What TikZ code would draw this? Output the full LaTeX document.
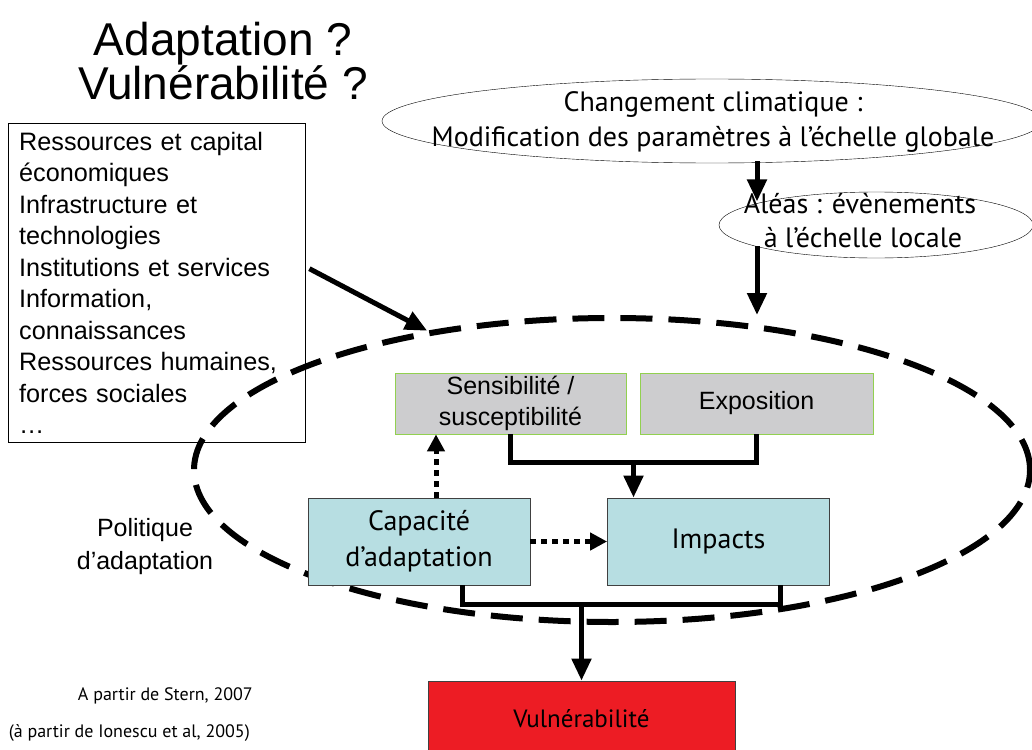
\documentclass[tikz,border=0pt]{standalone}
\usepackage{fontspec}
\setmainfont{Liberation Sans}
\newfontfamily\tahfont{PT Sans}
\usetikzlibrary{arrows.meta,shapes.geometric,calc}

\definecolor{sensgray}{RGB}{205,205,207}
\definecolor{sensgreen}{RGB}{146,208,80}
\definecolor{capcyan}{RGB}{183,222,226}
\definecolor{vulred}{RGB}{237,28,36}

\begin{document}
\begin{tikzpicture}[x=1pt,y=-1pt,
    ell/.style={ellipse,draw,thin,inner sep=0pt},
    elltext/.style={font=\tahfont\fontsize{28}{34}\selectfont,align=center,inner sep=0pt},
    greybox/.style={draw=sensgreen,fill=sensgray,thick,minimum height=61pt,font=\fontsize{25}{31}\selectfont,align=center,inner sep=0pt},
    cyanbox/.style={draw=black!75,fill=capcyan,thick,minimum width=222pt,minimum height=87pt,font=\tahfont\fontsize{28}{36}\selectfont,align=center,inner sep=0pt},
    bigarrow/.style={line width=5pt,-{Triangle[length=22pt,width=19pt]}},
    bigline/.style={line width=5pt},
    dotarrow/.style={line width=5pt,dash pattern=on 6pt off 5pt,-{Triangle[length=17pt,width=17pt]}}]
	\useasboundingbox (0,0) rectangle (1032,749);
	% titre
	\node (titre) at (223,61) [align=center,font=\fontsize{46}{42}\selectfont] {Adaptation ?\\Vuln\'erabilit\'e ?};
	% liste des ressources
	\node (res) at (8,123) [anchor=north west,draw,thin,minimum width=293pt,minimum height=319pt,text width=275pt,inner xsep=11pt,align=left,font=\fontsize{25.2}{31.5}\selectfont]
		{Ressources et capital\\\'economiques\\Infrastructure et\\technologies\\Institutions et services\\Information,\\connaissances\\Ressources humaines,\\forces sociales\\…};
	% ellipses du haut
	\node (clim) at (712,121) [ell,minimum width=660pt,minimum height=84pt] {};
	\node (climtxt) at (713,122) [elltext] {Changement climatique :\\Modification des param\`etres \`a l’\'echelle globale};
	\node (aleas) at (876,225) [ell,minimum width=314pt,minimum height=66pt] {};
	\node (aleastxt) at (860,221) [elltext] {Al\'eas : \'ev\`enements\\\hspace*{6pt}\`a l’\'echelle locale};
	% zone en tirets
	\node (zone) at (612,470) [ellipse,draw,line width=6pt,dash pattern=on 32pt off 16pt,minimum width=836pt,minimum height=304pt] {};
	% boites
	\node (sens) at (510.5,403.5) [greybox,minimum width=231pt] {Sensibilit\'e /\\susceptibilit\'e};
	\node (expo) at (756.5,403.5) [greybox,minimum width=233pt] {Exposition};
	\node (cap) at (419,541.5) [cyanbox] {Capacit\'e\\d’adaptation};
	\node (imp) at (718.5,541.5) [cyanbox] {Impacts};
	\node (vul) at (581.5,719) [draw=black!75,thick,fill=vulred,minimum width=307pt,minimum height=76pt,font=\tahfont\fontsize{25}{30}\selectfont] {Vuln\'erabilit\'e};
	\node (pol) at (145,547) [align=center,font=\fontsize{25}{33}\selectfont] {Politique\\d’adaptation};
	\node (src1) at (253,696) [anchor=east,inner sep=0pt,font=\tahfont\fontsize{18}{20}\selectfont] {A partir de Stern, 2007};
	\node (src2) at (250,733) [anchor=east,inner sep=0pt,font=\tahfont\fontsize{18}{20}\selectfont] {(\`a partir de Ionescu et al, 2005)};
	% fleches
	\coordinate (climfoot) at (757,161);
	\coordinate (aleasfoot) at (757,246);
	\draw [bigarrow] (climfoot) -- (climfoot |- aleas.168);
	\draw [bigarrow] (aleasfoot) -- (aleasfoot |- zone.north);
	\draw [bigarrow] ([xshift=4pt,yshift=14pt]res.east) -- (zone.143);
	\draw [bigline] (sens.south) -- ++(0,28) coordinate (a) -| (expo.south);
	\coordinate (amid) at ($(a)!0.5!(a -| expo.south)$);
	\draw [bigarrow] (amid) -- (amid |- imp.north);
	\draw [bigline] ([xshift=43pt]cap.south) -- ++(0,19) coordinate (b) -| ([xshift=62pt]imp.south);
	\draw [bigarrow] (b -| vul.north) -- (vul.north);
	\draw [dotarrow] ([xshift=17pt]cap.north) -- ([xshift=17pt]cap.north |- sens.south);
	\draw [dotarrow] (cap.east) -- (imp.west);
\end{tikzpicture}
\end{document}
